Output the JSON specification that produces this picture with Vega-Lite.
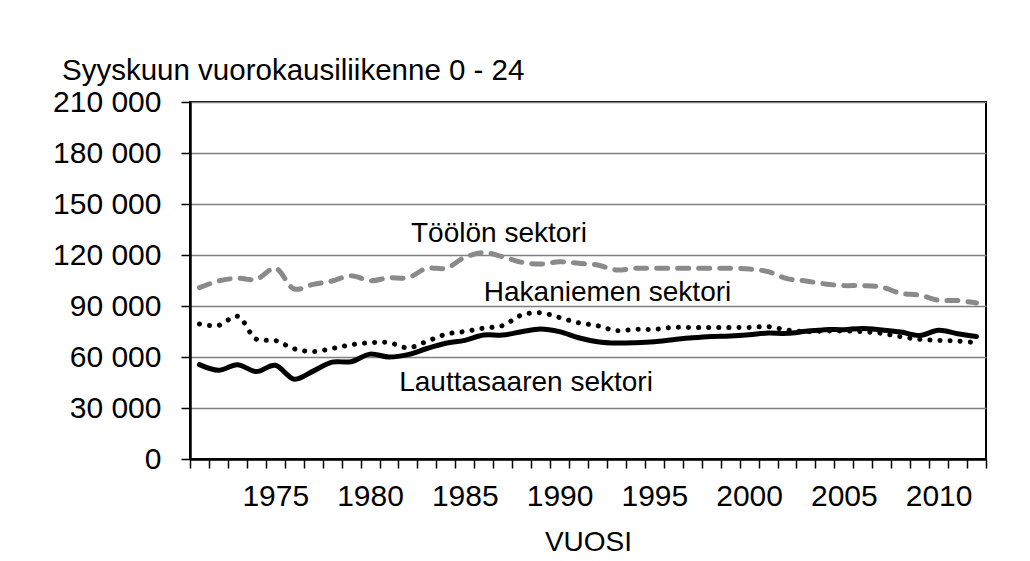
{
  "$schema": "https://vega.github.io/schema/vega-lite/v6.json",
  "width": 796,
  "height": 357,
  "autosize": {"type": "none"},
  "padding": {"left": 190, "top": 102, "right": 44, "bottom": 102},
  "background": "white",
  "config": {
    "view": {"stroke": "black", "strokeWidth": 2},
    "font": "Liberation Sans"
  },
  "title": {
    "text": "Syyskuun vuorokausiliikenne 0 - 24",
    "anchor": "start",
    "frame": "group",
    "dx": -128,
    "dy": 7,
    "fontSize": 29.5,
    "font": "Liberation Sans",
    "fontWeight": "normal",
    "color": "black",
    "offset": 8
  },
  "datasets": {
    "traffic": [
      {"year": 1971, "sector": "Töölö", "value": 100800}, {"year": 1971, "sector": "Hakaniemi", "value": 79400}, {"year": 1971, "sector": "Lauttasaari", "value": 55500},
      {"year": 1972, "sector": "Töölö", "value": 104700}, {"year": 1972, "sector": "Hakaniemi", "value": 78600}, {"year": 1972, "sector": "Lauttasaari", "value": 52200},
      {"year": 1973, "sector": "Töölö", "value": 106300}, {"year": 1973, "sector": "Hakaniemi", "value": 84000}, {"year": 1973, "sector": "Lauttasaari", "value": 55500},
      {"year": 1974, "sector": "Töölö", "value": 105700}, {"year": 1974, "sector": "Hakaniemi", "value": 70500}, {"year": 1974, "sector": "Lauttasaari", "value": 51400},
      {"year": 1975, "sector": "Töölö", "value": 112200}, {"year": 1975, "sector": "Hakaniemi", "value": 69700}, {"year": 1975, "sector": "Lauttasaari", "value": 55100},
      {"year": 1976, "sector": "Töölö", "value": 100000}, {"year": 1976, "sector": "Hakaniemi", "value": 64800}, {"year": 1976, "sector": "Lauttasaari", "value": 46900},
      {"year": 1977, "sector": "Töölö", "value": 102700}, {"year": 1977, "sector": "Hakaniemi", "value": 63200}, {"year": 1977, "sector": "Lauttasaari", "value": 51700},
      {"year": 1978, "sector": "Töölö", "value": 104700}, {"year": 1978, "sector": "Hakaniemi", "value": 65000}, {"year": 1978, "sector": "Lauttasaari", "value": 57000},
      {"year": 1979, "sector": "Töölö", "value": 107800}, {"year": 1979, "sector": "Hakaniemi", "value": 67200}, {"year": 1979, "sector": "Lauttasaari", "value": 57200},
      {"year": 1980, "sector": "Töölö", "value": 104900}, {"year": 1980, "sector": "Hakaniemi", "value": 68400}, {"year": 1980, "sector": "Lauttasaari", "value": 61700},
      {"year": 1981, "sector": "Töölö", "value": 106600}, {"year": 1981, "sector": "Hakaniemi", "value": 68500}, {"year": 1981, "sector": "Lauttasaari", "value": 60000},
      {"year": 1982, "sector": "Töölö", "value": 106600}, {"year": 1982, "sector": "Hakaniemi", "value": 65400}, {"year": 1982, "sector": "Lauttasaari", "value": 61400},
      {"year": 1983, "sector": "Töölö", "value": 112200}, {"year": 1983, "sector": "Hakaniemi", "value": 69200}, {"year": 1983, "sector": "Lauttasaari", "value": 65000},
      {"year": 1984, "sector": "Töölö", "value": 112200}, {"year": 1984, "sector": "Hakaniemi", "value": 73400}, {"year": 1984, "sector": "Lauttasaari", "value": 68100},
      {"year": 1985, "sector": "Töölö", "value": 118600}, {"year": 1985, "sector": "Hakaniemi", "value": 75000}, {"year": 1985, "sector": "Lauttasaari", "value": 69800},
      {"year": 1986, "sector": "Töölö", "value": 121400}, {"year": 1986, "sector": "Hakaniemi", "value": 77000}, {"year": 1986, "sector": "Lauttasaari", "value": 72900},
      {"year": 1987, "sector": "Töölö", "value": 119000}, {"year": 1987, "sector": "Hakaniemi", "value": 78500}, {"year": 1987, "sector": "Lauttasaari", "value": 72900},
      {"year": 1988, "sector": "Töölö", "value": 115700}, {"year": 1988, "sector": "Hakaniemi", "value": 84700}, {"year": 1988, "sector": "Lauttasaari", "value": 74900},
      {"year": 1989, "sector": "Töölö", "value": 114700}, {"year": 1989, "sector": "Hakaniemi", "value": 86000}, {"year": 1989, "sector": "Lauttasaari", "value": 76500},
      {"year": 1990, "sector": "Töölö", "value": 116000}, {"year": 1990, "sector": "Hakaniemi", "value": 83200}, {"year": 1990, "sector": "Lauttasaari", "value": 74900},
      {"year": 1991, "sector": "Töölö", "value": 115100}, {"year": 1991, "sector": "Hakaniemi", "value": 80100}, {"year": 1991, "sector": "Lauttasaari", "value": 71300},
      {"year": 1992, "sector": "Töölö", "value": 114100}, {"year": 1992, "sector": "Hakaniemi", "value": 78400}, {"year": 1992, "sector": "Lauttasaari", "value": 69000},
      {"year": 1993, "sector": "Töölö", "value": 111200}, {"year": 1993, "sector": "Hakaniemi", "value": 75500}, {"year": 1993, "sector": "Lauttasaari", "value": 68200},
      {"year": 1994, "sector": "Töölö", "value": 112200}, {"year": 1994, "sector": "Hakaniemi", "value": 76300}, {"year": 1994, "sector": "Lauttasaari", "value": 68400},
      {"year": 1995, "sector": "Töölö", "value": 112200}, {"year": 1995, "sector": "Hakaniemi", "value": 76300}, {"year": 1995, "sector": "Lauttasaari", "value": 69000},
      {"year": 1996, "sector": "Töölö", "value": 112200}, {"year": 1996, "sector": "Hakaniemi", "value": 77400}, {"year": 1996, "sector": "Lauttasaari", "value": 70200},
      {"year": 1997, "sector": "Töölö", "value": 112200}, {"year": 1997, "sector": "Hakaniemi", "value": 77400}, {"year": 1997, "sector": "Lauttasaari", "value": 71300},
      {"year": 1998, "sector": "Töölö", "value": 112200}, {"year": 1998, "sector": "Hakaniemi", "value": 77400}, {"year": 1998, "sector": "Lauttasaari", "value": 72100},
      {"year": 1999, "sector": "Töölö", "value": 112200}, {"year": 1999, "sector": "Hakaniemi", "value": 77400}, {"year": 1999, "sector": "Lauttasaari", "value": 72400},
      {"year": 2000, "sector": "Töölö", "value": 111800}, {"year": 2000, "sector": "Hakaniemi", "value": 77400}, {"year": 2000, "sector": "Lauttasaari", "value": 73100},
      {"year": 2001, "sector": "Töölö", "value": 110200}, {"year": 2001, "sector": "Hakaniemi", "value": 77800}, {"year": 2001, "sector": "Lauttasaari", "value": 74100},
      {"year": 2002, "sector": "Töölö", "value": 106100}, {"year": 2002, "sector": "Hakaniemi", "value": 75900}, {"year": 2002, "sector": "Lauttasaari", "value": 73900},
      {"year": 2003, "sector": "Töölö", "value": 104700}, {"year": 2003, "sector": "Hakaniemi", "value": 74900}, {"year": 2003, "sector": "Lauttasaari", "value": 75100},
      {"year": 2004, "sector": "Töölö", "value": 103000}, {"year": 2004, "sector": "Hakaniemi", "value": 75300}, {"year": 2004, "sector": "Lauttasaari", "value": 76100},
      {"year": 2005, "sector": "Töölö", "value": 102000}, {"year": 2005, "sector": "Hakaniemi", "value": 75300}, {"year": 2005, "sector": "Lauttasaari", "value": 76100},
      {"year": 2006, "sector": "Töölö", "value": 102000}, {"year": 2006, "sector": "Hakaniemi", "value": 74900}, {"year": 2006, "sector": "Lauttasaari", "value": 76800},
      {"year": 2007, "sector": "Töölö", "value": 101100}, {"year": 2007, "sector": "Hakaniemi", "value": 73900}, {"year": 2007, "sector": "Lauttasaari", "value": 75900},
      {"year": 2008, "sector": "Töölö", "value": 97500}, {"year": 2008, "sector": "Hakaniemi", "value": 71900}, {"year": 2008, "sector": "Lauttasaari", "value": 74700},
      {"year": 2009, "sector": "Töölö", "value": 96400}, {"year": 2009, "sector": "Hakaniemi", "value": 70400}, {"year": 2009, "sector": "Lauttasaari", "value": 72700},
      {"year": 2010, "sector": "Töölö", "value": 93400}, {"year": 2010, "sector": "Hakaniemi", "value": 69800}, {"year": 2010, "sector": "Lauttasaari", "value": 75700},
      {"year": 2011, "sector": "Töölö", "value": 93200}, {"year": 2011, "sector": "Hakaniemi", "value": 69400}, {"year": 2011, "sector": "Lauttasaari", "value": 73700},
      {"year": 2012, "sector": "Töölö", "value": 91800}, {"year": 2012, "sector": "Hakaniemi", "value": 68400}, {"year": 2012, "sector": "Lauttasaari", "value": 72100}
    ],
    "labels": [
      {"year": 1986.8, "value": 127650, "label": "Töölön sektori"},
      {"year": 1992.53, "value": 92940, "label": "Hakaniemen sektori"},
      {"year": 1988.23, "value": 40000, "label": "Lauttasaaren sektori"}
    ]
  },
  "data": {"name": "traffic"},
  "encoding": {
    "x": {
      "field": "year",
      "type": "quantitative",
      "scale": {"domain": [1970.5, 2012.5], "nice": false, "zero": false},
      "axis": {
        "values": [1970.5, 1971.5, 1972.5, 1973.5, 1974.5, 1975.5, 1976.5, 1977.5, 1978.5, 1979.5, 1980.5, 1981.5, 1982.5, 1983.5, 1984.5, 1985.5, 1986.5, 1987.5, 1988.5, 1989.5, 1990.5, 1991.5, 1992.5, 1993.5, 1994.5, 1995.5, 1996.5, 1997.5, 1998.5, 1999.5, 2000.5, 2001.5, 2002.5, 2003.5, 2004.5, 2005.5, 2006.5, 2007.5, 2008.5, 2009.5, 2010.5, 2011.5, 2012.5],
        "labelExpr": "(datum.value + 0.5) % 5 == 0 ? '' + (datum.value + 0.5) : ''",
        "labelOffset": 9.48,
        "labelOverlap": false,
        "labelFlush": false,
        "labelBound": false,
        "grid": false,
        "ticks": true,
        "tickSize": 9,
        "tickColor": "black",
        "tickWidth": 1.5,
        "domainColor": "black",
        "domainWidth": 2.5,
        "labelFontSize": 30,
        "labelFont": "Liberation Sans",
        "labelColor": "black",
        "labelPadding": 13,
        "title": "VUOSI",
        "titleFontSize": 28,
        "titleFont": "Liberation Sans",
        "titleFontWeight": "normal",
        "titleColor": "black",
        "titlePadding": 17
      }
    },
    "y": {
      "field": "value",
      "type": "quantitative",
      "scale": {"domain": [0, 210000], "nice": false},
      "axis": {
        "values": [0, 30000, 60000, 90000, 120000, 150000, 180000, 210000],
        "labelExpr": "replace(format(datum.value, ','), ',', ' ')",
        "grid": true,
        "gridColor": "#808080",
        "gridWidth": 1.5,
        "tickSize": 9,
        "tickColor": "black",
        "tickWidth": 1.5,
        "domainColor": "black",
        "domainWidth": 2.5,
        "labelFontSize": 30,
        "labelFont": "Liberation Sans",
        "labelColor": "black",
        "labelPadding": 20,
        "labelOverlap": false,
        "title": null
      }
    }
  },
  "layer": [
    {
      "transform": [{"filter": "datum.sector == 'Töölö'"}],
      "mark": {"type": "line", "color": "#8a8a8a", "strokeWidth": 5, "strokeDash": [11, 10], "strokeCap": "round", "interpolate": "catmull-rom"}
    },
    {
      "transform": [{"filter": "datum.sector == 'Hakaniemi'"}],
      "mark": {"type": "line", "color": "black", "strokeWidth": 5, "strokeDash": [0.1, 10], "strokeCap": "round", "interpolate": "catmull-rom"}
    },
    {
      "transform": [{"filter": "datum.sector == 'Lauttasaari'"}],
      "mark": {"type": "line", "color": "black", "strokeWidth": 5, "strokeCap": "round", "interpolate": "catmull-rom"}
    },
    {
      "data": {"name": "labels"},
      "mark": {"type": "text", "align": "center", "baseline": "alphabetic", "fontSize": 28, "font": "Liberation Sans", "color": "black"},
      "encoding": {"text": {"field": "label", "type": "nominal"}}
    }
  ]
}
